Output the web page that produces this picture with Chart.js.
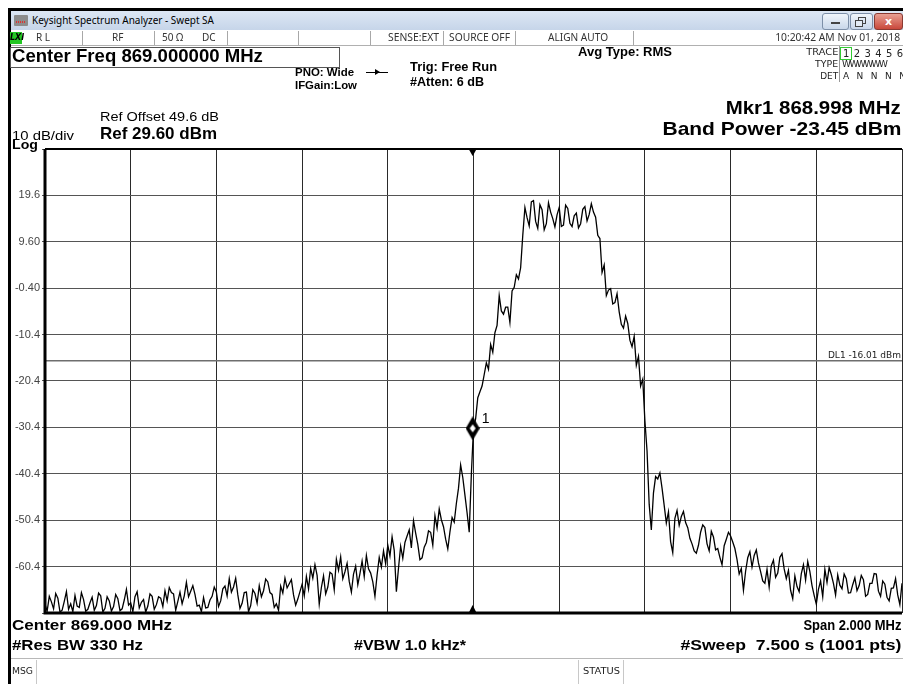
<!DOCTYPE html>
<html>
<head>
<meta charset="utf-8">
<script src="https://cdn.jsdelivr.net/npm/chart.js@4.4.1/dist/chart.umd.min.js"></script>
<style>
  body { margin: 0; width: 903px; height: 684px; overflow: hidden; position: relative; background: #fff;
         font-family: "Liberation Sans", Arial, sans-serif; color: #000; }
  .t { position: absolute; white-space: nowrap; line-height: 1; z-index: 2; transform-origin: left top; }
  .r { transform-origin: right top; }
  .b { font-weight: bold; }
  .box { position: absolute; z-index: 2; }
  #sa { position: absolute; left: 0; top: 0; z-index: 1; }
  .st { font-family: "Noto Sans", sans-serif; font-size: 10px; color: #333; top: 32px; }
  .sep { position: absolute; top: 31px; width: 1px; height: 14px; background: #a8a8a8; z-index: 2; }
  .sm { font-size: 9px; color: #222; font-family: "DejaVu Sans", sans-serif; }
</style>
</head>
<body>
<canvas id="sa" width="903" height="684"></canvas>

<!-- window frame -->
<div class="box" style="left:8px;top:8px;width:895px;height:3px;background:#000"></div>
<div class="box" style="left:8px;top:8px;width:3px;height:676px;background:#000"></div>
<div class="box" style="left:11px;top:11px;width:892px;height:19px;background:linear-gradient(#dde7f4,#c6d5e9)"></div>
<div class="box" style="left:14px;top:15px;width:14px;height:11px;background:#8c8c8c;border-radius:1px">
  <div style="position:absolute;left:2px;top:6px;width:10px;height:2px;background:repeating-linear-gradient(90deg,#d33 0 1px,transparent 1px 2px)"></div>
</div>
<div class="t" style="left:32px;top:14px;font-family:'Noto Sans',sans-serif;font-size:11px" data-w="182">Keysight Spectrum Analyzer - Swept SA</div>
<div class="box" style="left:822px;top:13px;width:25px;height:15px;border:1px solid #7d8fa8;border-radius:3px;background:linear-gradient(#f0f5fb,#c9d7ea)">
  <div style="position:absolute;left:8px;top:8px;width:9px;height:2px;background:#444"></div></div>
<div class="box" style="left:850px;top:13px;width:21px;height:15px;border:1px solid #7d8fa8;border-radius:3px;background:linear-gradient(#f0f5fb,#c9d7ea)">
  <div style="position:absolute;left:7px;top:3px;width:6px;height:5px;border:1px solid #444"></div>
  <div style="position:absolute;left:4px;top:6px;width:6px;height:5px;border:1px solid #444;background:#e3ebf5"></div></div>
<div class="box" style="left:874px;top:13px;width:27px;height:15px;border:1px solid #8a3a32;border-radius:3px;background:linear-gradient(#e8a093,#c9483b);color:#fff;font:bold 11px 'DejaVu Sans';text-align:center;line-height:15px">x</div>

<!-- status row -->
<div class="box" style="left:11px;top:45px;width:892px;height:1px;background:#b0b0b0"></div>
<div class="box" style="left:10px;top:32px;width:12px;height:12px;background:#23c623;font:italic bold 8px 'DejaVu Sans';line-height:12px;text-align:center">LXI</div>
<div class="t st" style="left:36px">R L</div>
<div class="sep" style="left:82px"></div>
<div class="t st" style="left:112px">RF</div>
<div class="sep" style="left:154px"></div>
<div class="t st" style="left:162px">50 Ω</div>
<div class="t st" style="left:202px">DC</div>
<div class="sep" style="left:227px"></div>
<div class="sep" style="left:298px"></div>
<div class="sep" style="left:370px"></div>
<div class="t st" style="left:388px" data-w="51">SENSE:EXT</div>
<div class="sep" style="left:443px"></div>
<div class="t st" style="left:449px" data-w="61">SOURCE OFF</div>
<div class="sep" style="left:515px"></div>
<div class="t st" style="left:548px" data-w="60">ALIGN AUTO</div>
<div class="sep" style="left:633px"></div>
<div class="t st r" style="right:3px" data-w="125">10:20:42 AM Nov 01, 2018</div>

<!-- settings block -->
<div class="box" style="left:10px;top:47px;width:328px;height:19px;border:1px solid #555"></div>
<div class="t b" style="left:12px;top:47px;font-size:18px" data-w="251">Center Freq 869.000000 MHz</div>
<div class="t b" style="left:295px;top:67px;font-size:11px" data-w="59">PNO: Wide</div>
<div class="t b" style="left:295px;top:80px;font-size:11px" data-w="62">IFGain:Low</div>
<div class="box" style="left:366px;top:72px;width:22px;height:1px;background:#000"></div>
<div class="box" style="left:375px;top:69px;width:0;height:0;border-top:3px solid transparent;border-bottom:3px solid transparent;border-left:5px solid #000"></div>
<div class="t b" style="left:410px;top:61px;font-size:12px" data-w="87">Trig: Free Run</div>
<div class="t b" style="left:410px;top:76px;font-size:12px" data-w="74">#Atten: 6 dB</div>
<div class="t b" style="left:578px;top:46px;font-size:12px" data-w="94">Avg Type: RMS</div>

<div class="t sm r" style="right:65px;top:48px" data-w="32">TRACE</div>
<div class="t sm r" style="right:65px;top:60px" data-w="23">TYPE</div>
<div class="t sm r" style="right:65px;top:72px" data-w="18">DET</div>
<div class="box" style="left:839px;top:46px;width:1px;height:36px;background:#999"></div>
<div class="box" style="left:840px;top:47px;width:10px;height:11px;border:1px solid #3c3"></div>
<div class="t sm" style="left:843px;top:49px;font-size:10px;letter-spacing:0.6px">1 2 3 4 5 6</div>
<div class="t sm" style="left:842px;top:60px;font-size:9px;letter-spacing:-1.5px">WWWWWW</div>
<div class="t sm" style="left:843px;top:72px;font-size:9px;letter-spacing:2.3px">A N N N N N</div>

<div class="t b r" style="right:2px;top:98px;font-size:19px" data-w="175">Mkr1 868.998 MHz</div>
<div class="t b r" style="right:2px;top:119px;font-size:19px" data-w="239">Band Power -23.45 dBm</div>

<div class="t" style="left:100px;top:111px;font-size:12.5px" data-w="119">Ref Offset 49.6 dB</div>
<div class="t b" style="left:100px;top:125px;font-size:16.5px" data-w="117">Ref 29.60 dBm</div>
<div class="t" style="left:12px;top:129px;font-size:13px" data-w="62">10 dB/div</div>
<div class="t b" style="left:12px;top:139px;font-size:12.5px" data-w="26">Log</div>

<!-- bottom annotations -->
<div class="t b" style="left:12px;top:617px;font-size:15px" data-w="160">Center 869.000 MHz</div>
<div class="t b r" style="right:2px;top:617px;font-size:15px" data-w="98">Span 2.000 MHz</div>
<div class="t b" style="left:12px;top:637px;font-size:15px" data-w="131">#Res BW 330 Hz</div>
<div class="t b" style="left:354px;top:637px;font-size:15px" data-w="112">#VBW 1.0 kHz*</div>
<div class="t b r" style="right:2px;top:637px;font-size:15px" data-w="221">#Sweep&nbsp; 7.500 s (1001 pts)</div>

<div class="box" style="left:11px;top:658px;width:892px;height:1px;background:#b8b8b8"></div>
<div class="t sm" style="left:12px;top:667px" data-w="21">MSG</div>
<div class="box" style="left:36px;top:660px;width:1px;height:24px;background:#c8c8c8"></div>
<div class="box" style="left:578px;top:660px;width:1px;height:24px;background:#c8c8c8"></div>
<div class="t sm" style="left:583px;top:667px" data-w="37">STATUS</div>
<div class="box" style="left:623px;top:660px;width:1px;height:24px;background:#c8c8c8"></div>

<script>
// Swept SA trace, 868.000 - 870.000 MHz, levels every 5 kHz (dBm)
const startFreq = 868.0;
const freqStep = 0.005;
const traceLevels = [
  -68.5, -70.0, -66.8, -68.0, -69.5, -66.2, -67.2, -70.2, -69.8, -67.9,
  -65.8, -69.6, -68.4, -70.1, -66.6, -68.9, -69.2, -66.0, -67.5, -70.0,
  -69.6, -68.2, -67.0, -69.8, -68.8, -66.1, -66.7, -70.2, -69.4, -66.9,
  -67.8, -70.0, -69.0, -66.4, -67.3, -69.9, -69.5, -67.6, -65.3, -68.7,
  -68.2, -70.1, -66.9, -65.8, -69.3, -68.1, -67.5, -70.2, -68.9, -66.3,
  -66.8, -69.6, -68.6, -66.9, -67.2, -69.0, -65.6, -67.8, -64.9, -66.0,
  -66.3, -69.8, -67.9, -65.9, -68.4, -66.7, -63.8, -66.9, -65.7, -64.5,
  -66.4, -68.9, -68.7, -70.1, -67.1, -69.3, -69.2, -67.6, -66.8, -64.8,
  -65.9, -69.0, -67.8, -65.2, -64.6, -66.7, -63.0, -65.9, -64.8, -62.9,
  -66.5, -69.4, -68.3, -66.0, -65.9, -70.1, -68.8, -65.4, -66.2, -68.3,
  -64.5, -66.9, -65.6, -63.1, -63.7, -66.0, -66.4, -69.2, -68.4, -69.8,
  -64.6, -66.1, -62.9, -65.0, -64.1, -63.2, -66.5, -68.7, -67.4, -65.8,
  -64.2, -66.7, -62.5, -65.2, -60.8, -62.9, -60.0, -62.3, -68.5, -64.9,
  -62.4, -66.3, -64.8, -61.6, -62.0, -65.4, -58.8, -61.2, -58.3, -63.0,
  -61.5, -59.7, -63.6, -65.9, -62.0, -60.3, -64.3, -61.9, -59.2, -62.6,
  -58.0, -60.9, -61.8, -63.7, -66.8, -62.2, -58.4, -60.5, -57.0, -59.8,
  -55.8, -58.1, -54.0, -56.9, -65.8, -60.7, -56.0, -58.6, -55.2, -53.8,
  -52.5, -56.4, -50.5, -53.2, -55.6, -58.9, -58.5, -56.2, -55.2, -52.7,
  -53.0, -55.8, -49.4, -52.1, -48.0, -50.3, -51.8, -54.5, -56.6, -52.9,
  -49.8, -50.8, -46.8, -43.5, -38.5, -41.2, -45.0, -48.8, -53.0, -40.5,
  -30.6, -28.5, -24.0, -22.7, -21.5, -19.0, -16.5, -17.9, -12.5, -14.2,
  -10.0, -8.4, -2.0, -5.3, -6.0, -4.5, -4.5, -7.8, -1.0, -0.2,
  2.5, 1.6, 4.0, 11.0, 17.0, 14.8, 13.0, 18.2, 18.5, 14.0,
  12.5, 17.6, 16.5, 12.2, 13.5, 18.0, 16.0, 14.6, 12.8, 15.4,
  17.0, 12.9, 13.2, 17.5, 16.8, 13.6, 12.9, 15.2, 15.8, 12.6,
  13.5, 16.6, 17.2, 14.1, 15.5, 17.8, 16.0, 14.9, 11.0, 10.3,
  3.0, 4.6, -2.0, -0.8, -0.5, -3.8, -3.5, -1.6, -5.5, -8.2,
  -9.0, -6.4, -8.0, -11.6, -13.0, -10.8, -17.0, -15.1, -21.5, -20.0,
  -29.0, -35.5, -47.0, -52.5, -44.5, -41.0, -41.5, -40.2, -43.5, -47.2,
  -51.0, -48.6, -55.0, -57.4, -50.0, -48.3, -51.5, -49.6, -48.5, -50.9,
  -52.0, -54.3, -55.5, -57.0, -57.5, -55.8, -53.0, -51.4, -52.0, -55.5,
  -57.0, -52.8, -54.0, -56.8, -56.5, -58.4, -60.0, -55.9, -54.5, -53.0,
  -53.8, -55.1, -56.5, -58.9, -62.0, -60.8, -65.5, -61.4, -58.5, -57.2,
  -60.5, -58.0, -56.8, -59.6, -61.5, -63.5, -64.0, -61.0, -64.8, -60.2,
  -59.0, -62.7, -61.8, -58.4, -57.6, -60.9, -63.0, -61.2, -65.5, -67.3,
  -62.4, -64.7, -65.8, -61.9, -60.0, -63.3, -59.3, -61.5, -64.5, -66.6,
  -68.5, -65.3, -63.5, -66.9, -61.0, -63.8, -60.6, -62.1, -64.0, -66.5,
  -62.2, -64.4, -65.2, -62.0, -63.0, -66.1, -66.0, -64.3, -62.8, -65.6,
  -64.5, -62.3, -63.2, -66.8, -66.4, -64.0, -64.0, -61.9, -62.0, -65.7,
  -66.8, -63.5, -64.2, -67.0, -67.8, -65.1, -65.0, -63.0, -66.5, -68.6,
  -64.0
];
const xGridFreqs = [868.0, 868.2, 868.4, 868.6, 868.8, 869.0, 869.2, 869.4, 869.6, 869.8, 870.0];
const yGridLevels = [29.6, 19.6, 9.6, -0.4, -10.4, -20.4, -30.4, -40.4, -50.4, -60.4, -70.4];
const yTickLabels = ['', '19.6', '9.60', '-0.40', '-10.4', '-20.4', '-30.4', '-40.4', '-50.4', '-60.4', ''];
const displayLine = -16.01;
const displayLineLabel = 'DL1 -16.01 dBm';
const markerFreq = 868.998;
const markerLevel = -30.6;
const markerName = '1';

const tracePts = traceLevels.map((v, i) => ({ x: startFreq + i * freqStep, y: v }));

// marker diamond as point style
const diamond = document.createElement('canvas');
diamond.width = 14; diamond.height = 24;
const dctx = diamond.getContext('2d');
dctx.fillStyle = '#000';
dctx.beginPath(); dctx.moveTo(7, 0); dctx.lineTo(14, 12); dctx.lineTo(7, 24); dctx.lineTo(0, 12); dctx.closePath(); dctx.fill();
dctx.fillStyle = '#fff';
dctx.beginPath(); dctx.moveTo(7, 8); dctx.lineTo(10, 12); dctx.lineTo(7, 16); dctx.lineTo(4, 12); dctx.closePath(); dctx.fill();

// thick frame, marker triangles and labels
const saOverlay = {
  id: 'saOverlay',
  afterDraw(chart) {
    const { ctx, chartArea: a, scales } = chart;
    ctx.save();
    ctx.strokeStyle = '#000';
    ctx.lineWidth = 3;
    ctx.beginPath();
    ctx.moveTo(a.left, a.top); ctx.lineTo(a.left, a.bottom); ctx.lineTo(a.right, a.bottom);
    ctx.stroke();
    ctx.lineWidth = 2;
    ctx.beginPath(); ctx.moveTo(a.left, a.top); ctx.lineTo(a.right, a.top); ctx.stroke();

    const mx = scales.x.getPixelForValue(markerFreq);
    ctx.fillStyle = '#000';
    ctx.beginPath(); ctx.moveTo(mx - 4, a.top); ctx.lineTo(mx + 4, a.top); ctx.lineTo(mx, a.top + 7); ctx.fill();
    ctx.beginPath(); ctx.moveTo(mx - 4, a.bottom); ctx.lineTo(mx + 4, a.bottom); ctx.lineTo(mx, a.bottom - 8); ctx.fill();

    const my = scales.y.getPixelForValue(markerLevel);
    ctx.font = '14px "Liberation Sans"';
    ctx.textBaseline = 'alphabetic';
    ctx.fillText(markerName, mx + 9, my - 5);

    const dy = scales.y.getPixelForValue(displayLine);
    ctx.font = '9px "DejaVu Sans"';
    ctx.fillStyle = '#222';
    ctx.textAlign = 'right';
    ctx.fillText(displayLineLabel, a.right - 1, dy - 3);
    ctx.restore();
  }
};

new Chart(document.getElementById('sa'), {
  type: 'line',
  data: {
    datasets: [
      { data: [{ x: markerFreq, y: markerLevel }], showLine: false, pointStyle: diamond, pointRadius: 7, order: 0 },
      { data: tracePts, borderColor: '#000', borderWidth: 1.3, pointRadius: 0, tension: 0, order: 1 },
      { data: [{ x: xGridFreqs[0], y: displayLine }, { x: xGridFreqs[xGridFreqs.length - 1], y: displayLine }],
        borderColor: '#6e6e6e', borderWidth: 1.5, pointRadius: 0, order: 2 }
    ]
  },
  options: {
    responsive: false,
    animation: false,
    devicePixelRatio: 1,
    layout: { autoPadding: false, padding: { left: 0, top: 149, right: 1, bottom: 71 } },
    plugins: { legend: { display: false }, tooltip: { enabled: false } },
    scales: {
      x: {
        type: 'linear', min: xGridFreqs[0], max: xGridFreqs[xGridFreqs.length - 1],
        afterBuildTicks: s => { s.ticks = xGridFreqs.map(v => ({ value: v })); },
        afterFit: s => { s.height = 0; s.paddingLeft = 0; s.paddingRight = 0; },
        ticks: { display: false },
        grid: { color: '#2a2a2a', lineWidth: 1, drawTicks: false },
        border: { display: false }
      },
      y: {
        type: 'linear', min: yGridLevels[yGridLevels.length - 1], max: yGridLevels[0],
        afterBuildTicks: s => { s.ticks = yGridLevels.slice().reverse().map(v => ({ value: v })); },
        afterFit: s => { s.width = 45; },
        ticks: {
          padding: 2,
          color: '#444',
          font: { family: 'Liberation Sans', size: 11 },
          callback: (v) => yTickLabels[yGridLevels.indexOf(v)] ?? ''
        },
        grid: { color: '#555', lineWidth: 1, tickLength: 3 },
        border: { display: false }
      }
    }
  },
  plugins: [saOverlay]
});

// squeeze the HTML annotations to the widths seen on the instrument screen
document.querySelectorAll('[data-w]').forEach(el => {
  const w = el.getBoundingClientRect().width;
  if (w > 0) el.style.transform = 'scaleX(' + (+el.dataset.w / w).toFixed(3) + ')';
});
</script>
</body>
</html>
